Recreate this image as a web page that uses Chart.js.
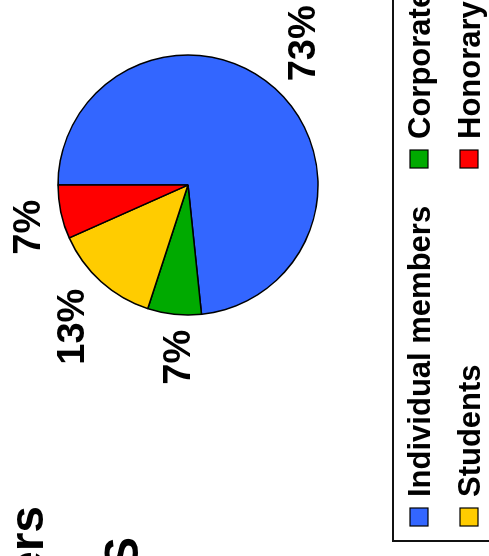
<!DOCTYPE html>
<html>
<head>
<meta charset="utf-8">
<script src="https://cdn.jsdelivr.net/npm/chart.js@4/dist/chart.umd.min.js"></script>
<style>
  html, body { margin: 0; padding: 0; background: #fff; overflow: hidden; }
  /* the picture is turned a quarter turn, so draw upright and rotate */
  #wrap {
    position: absolute; left: 0; top: 0;
    width: 556px; height: 489px;
    transform-origin: 0 0;
    transform: translateY(556px) rotate(-90deg);
  }
</style>
</head>
<body>
<div id="wrap"><canvas id="myChart" width="556" height="489"></canvas></div>
<script>
var categories = ['Individual members', 'Corporate members', 'Students', 'Honorary members'];
var members = [110, 10, 20, 10];
var colours = ['#3366FF', '#00AA00', '#FFCC00', '#FF0000'];
var titleLines = ['Society members', 'STATISTICS'];

var FONT = '"Liberation Sans", Arial, sans-serif';

// percent labels outside each slice
var pctLabels = {
  id: 'pctLabels',
  afterDatasetsDraw: function(chart) {
    var ctx = chart.ctx;
    var meta = chart.getDatasetMeta(0);
    var total = members.reduce(function(a, b) { return a + b; }, 0);
    ctx.save();
    ctx.font = 'bold 38px ' + FONT;
    ctx.fillStyle = '#000';
    ctx.textAlign = 'center';
    ctx.textBaseline = 'middle';
    meta.data.forEach(function(arc, i) {
      var txt = Math.round(members[i] / total * 100) + '%';
      var mid = (arc.startAngle + arc.endAngle) / 2 - 0.05;
      var c = Math.cos(mid), s = Math.sin(mid);
      var hw = ctx.measureText(txt).width / 2, hh = 14;
      var d = arc.outerRadius * 1.11 + Math.abs(c) * hw + Math.abs(s) * hh;
      ctx.fillText(txt, arc.x + c * d, arc.y + s * d + 1);
    });
    ctx.restore();
  }
};

// boxed legend, two columns
var boxLegend = {
  id: 'boxLegend',
  afterDraw: function(chart) {
    var ctx = chart.ctx;
    ctx.save();
    ctx.strokeStyle = '#111';
    ctx.lineWidth = 2;
    ctx.strokeRect(15, 393, 700, 200);
    ctx.font = 'bold 31px ' + FONT;
    ctx.textBaseline = 'alphabetic';
    categories.forEach(function(name, i) {
      var col = i % 2, row = Math.floor(i / 2);
      var x = 30 + col * 358, y = 410 + row * 50;
      ctx.fillStyle = colours[i];
      ctx.fillRect(x, y, 18, 18);
      ctx.lineWidth = 1.2;
      ctx.strokeStyle = '#000';
      ctx.strokeRect(x, y, 18, 18);
      ctx.fillStyle = '#000';
      ctx.fillText(name, x + 29, y + 20);
    });
    ctx.restore();
  }
};

// title lines, mostly cut off at the left edge
var bigTitle = {
  id: 'bigTitle',
  afterDraw: function(chart) {
    var ctx = chart.ctx;
    ctx.save();
    ctx.fillStyle = '#000';
    ctx.textAlign = 'right';
    ctx.textBaseline = 'alphabetic';
    ctx.font = 'bold 48px ' + FONT;
    ctx.fillText(titleLines[0], 50, 43);
    ctx.fillText(titleLines[1], 19, 138);
    ctx.restore();
  }
};

var ctx = document.getElementById('myChart').getContext('2d');
var myChart = new Chart(ctx, {
  type: 'pie',
  data: {
    labels: categories,
    datasets: [{
      data: members,
      backgroundColor: colours,
      borderColor: '#000',
      borderWidth: 1.5
    }]
  },
  options: {
    responsive: false,
    animation: false,
    radius: 130,
    layout: { padding: { left: 216, right: 30, top: 48, bottom: 161 } },
    plugins: {
      legend: { display: false },
      tooltip: { enabled: false },
      title: { display: false }
    }
  },
  plugins: [pctLabels, boxLegend, bigTitle]
});
</script>
</body>
</html>
